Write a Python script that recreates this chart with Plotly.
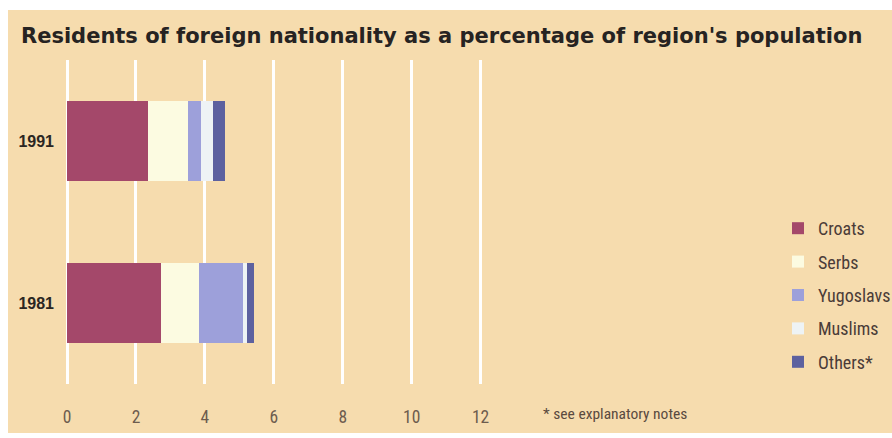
import plotly.graph_objects as go

years = ["1981", "1991"]
groups = ["Croats", "Serbs", "Yugoslavs", "Muslims", "Others*"]
croats = [2.73, 2.35]
serbs = [1.09, 1.17]
yugoslavs = [1.29, 0.38]
muslims = [0.10, 0.34]
others = [0.22, 0.33]
x_ticks = [0, 2, 4, 6, 8, 10, 12]

series = [croats, serbs, yugoslavs, muslims, others]
colors = ["#A4486A", "#FCFBE1", "#9DA0DA", "#EEF3F5", "#5D619F"]

W, H = 892, 438
L, R, T, B = 67, 410, 60, 54
pw, ph = W - L - R, H - T - B

fig = go.Figure()
for name, vals, col in zip(groups, series, colors):
    fig.add_trace(go.Bar(
        y=years, x=vals, name=name, orientation="h",
        marker=dict(color=col, line=dict(width=0)),
        legendgroup=name,
    ))

def px_x(p):
    return (p - L) / pw

def px_y(p):
    return (H - B - p) / ph

narrow = "Liberation Sans Narrow, Arial Narrow, Roboto Condensed, sans-serif"

fig.update_layout(
    width=W, height=H,
    margin=dict(l=L, r=R, t=T, b=B, autoexpand=False),
    paper_bgcolor="white",
    plot_bgcolor="rgba(0,0,0,0)",
    barmode="stack",
    bargap=0.505,
    showlegend=True,
    legend=dict(
        x=px_x(778), y=px_y(210), xanchor="left", yanchor="top",
        bgcolor="rgba(0,0,0,0)",
        font=dict(family=narrow, size=18, color="#4a3b38"),
        traceorder="grouped", tracegroupgap=7,
        itemwidth=30,
    ),
    xaxis=dict(
        range=[0, 12.04], tickvals=x_ticks, ticktext=[str(v) for v in x_ticks],
        showgrid=True, gridcolor="white", gridwidth=2.5,
        zeroline=True, zerolinecolor="white", zerolinewidth=2.5,
        showline=False, ticks="",
        tickfont=dict(family=narrow, size=17.5, color="#6d5c4e"),
        ticklabelstandoff=20,
    ),
    yaxis=dict(
        categoryorder="array", categoryarray=years,
        range=[-0.5, 1.5],
        showgrid=False, zeroline=False, showline=False, ticks="",
        tickfont=dict(family="Liberation Sans, Arial, sans-serif", size=16,
                      color="#2b2622", weight="bold"),
        ticklabelstandoff=12,
    ),
    shapes=[dict(
        type="rect", xref="paper", yref="paper",
        x0=px_x(8), x1=px_x(892), y0=px_y(433), y1=px_y(10),
        fillcolor="#F6DCAE", line=dict(width=0), layer="below",
    )],
    annotations=[
        dict(
            text="<b>Residents of foreign nationality as a percentage of region's population</b>",
            xref="paper", yref="paper", x=px_x(19), y=px_y(36),
            xanchor="left", yanchor="middle", showarrow=False,
            font=dict(family="DejaVu Sans, sans-serif", size=21, color="#262322"),
        ),
        dict(
            text="* see explanatory notes",
            xref="paper", yref="paper", x=px_x(541), y=px_y(414),
            xanchor="left", yanchor="middle", showarrow=False,
            font=dict(family=narrow, size=15.5, color="#5a4a40"),
        ),
    ],
)

fig.write_html(
    "out.html",
    config={"displayModeBar": False},
    post_script="document.body.style.margin='0';document.body.style.overflow='hidden';",
)
